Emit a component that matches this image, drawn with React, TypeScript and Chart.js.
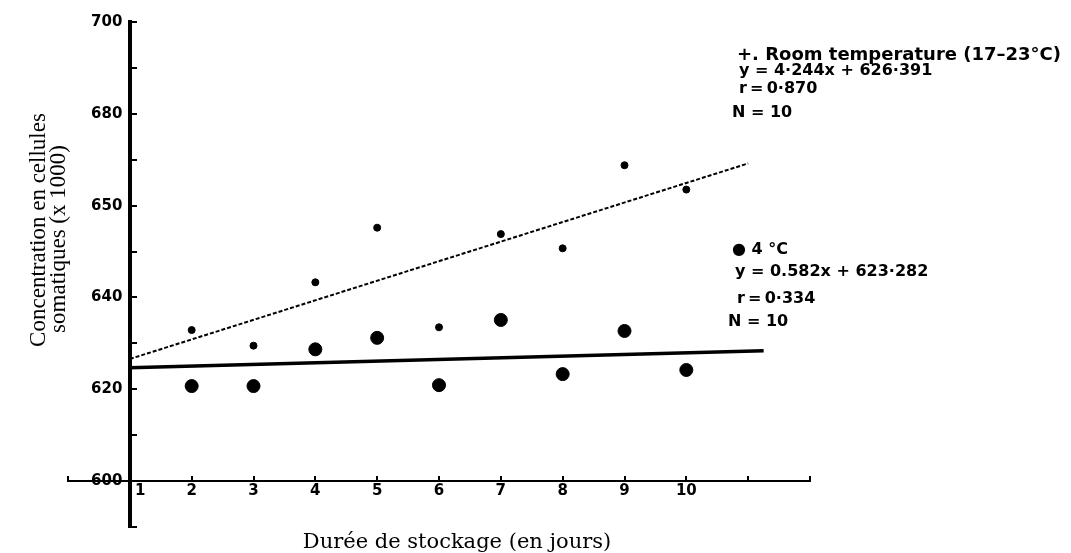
import React, { useEffect, useRef } from 'react';
import { Chart, registerables } from 'chart.js';

Chart.register(...registerables);

// Storage duration (days) and somatic cell concentrations (x 1000)
const days = [2, 3, 4, 5, 6, 7, 8, 9, 10];
const roomTemp = [632.9, 629.5, 643.3, 655.2, 633.5, 653.8, 650.7, 668.8, 663.5];
const cold4C = [620.7, 620.7, 628.7, 631.2, 620.9, 635.1, 623.3, 632.7, 624.2];

// Regression lines as drawn
const roomFitX = [1, 11];
const roomFitY = [626.6, 669.2];
const coldFitX = [1, 11.25];
const coldFitY = [624.7, 628.4];

// Axis tick labels as printed on the figure
const yTickValues = [600, 620, 640, 660, 680, 700];
const yTickLabels = ['600', '620', '640', '650', '680', '700'];
const xTickValues = [1, 2, 3, 4, 5, 6, 7, 8, 9, 10];
const xTickLabels = ['1', '2', '3', '4', '5', '6', '7', '8', '9', '10'];

const yTitleLines = ['Concentration en cellules', 'somatiques (x 1000)'];
const xTitle = 'Durée de stockage (en jours)';
const roomNotes = ['+. Room temperature (17–23°C)', 'y = 4·244x + 626·391', 'r\u2009=\u20090·870', 'N = 10'];
const coldNotes = ['● 4 °C', 'y = 0.582x + 623·282', 'r\u2009=\u20090·334', 'N = 10'];

const W = 1071;
const H = 553;

const textPlugin = {
  id: 'figureText',
  afterDraw(chart: any) {
    const ctx = chart.ctx;
    ctx.save();
    ctx.fillStyle = '#000';

    // y-axis title (rotated)
    ctx.font = '23px "Liberation Serif"';
    ctx.textAlign = 'center';
    ctx.textBaseline = 'alphabetic';
    const yPos = [
      [45, 230],
      [65, 239],
    ];
    yTitleLines.forEach((t, i) => {
      ctx.save();
      ctx.translate(yPos[i][0], yPos[i][1]);
      ctx.rotate(-Math.PI / 2);
      ctx.fillText(t, 0, 0);
      ctx.restore();
    });

    // x-axis title
    ctx.font = '21px "DejaVu Serif"';
    ctx.fillText(xTitle, 457, 548);

    // annotations
    ctx.textAlign = 'left';
    ctx.textBaseline = 'middle';
    const roomPos = [
      [737, 55],
      [739, 71],
      [739, 89],
      [732, 113],
    ];
    roomNotes.forEach((t, i) => {
      ctx.font = i === 0 ? 'bold 18px "DejaVu Sans"' : 'bold 16px "DejaVu Sans"';
      ctx.fillText(t, roomPos[i][0], roomPos[i][1]);
    });
    const coldPos = [
      [732, 250],
      [735, 272],
      [737, 299],
      [728, 322],
    ];
    ctx.font = 'bold 16px "DejaVu Sans"';
    coldNotes.forEach((t, i) => ctx.fillText(t, coldPos[i][0], coldPos[i][1]));
    ctx.restore();
  },
};

export default function App() {
  const canvasRef = useRef<HTMLCanvasElement | null>(null);

  useEffect(() => {
    document.body.style.margin = '0';
    const canvas = canvasRef.current;
    if (!canvas) return;

    const chart = new Chart(canvas, {
      type: 'scatter',
      data: {
        datasets: [
          {
            label: 'Room temperature (17–23°C)',
            data: days.map((d, i) => ({ x: d, y: roomTemp[i] })),
            backgroundColor: '#000',
            borderColor: '#000',
            pointRadius: 3.5,
            pointStyle: 'circle',
            showLine: false,
          },
          {
            label: '4 °C',
            data: days.map((d, i) => ({ x: d, y: cold4C[i] })),
            backgroundColor: '#000',
            borderColor: '#000',
            pointRadius: 6.5,
            pointStyle: 'circle',
            showLine: false,
          },
          {
            label: 'Room temperature fit',
            data: roomFitX.map((x, i) => ({ x, y: roomFitY[i] })),
            borderColor: '#000',
            borderWidth: 2,
            borderDash: [4, 2],
            pointRadius: 0,
            showLine: true,
          },
          {
            label: '4 °C fit',
            data: coldFitX.map((x, i) => ({ x, y: coldFitY[i] })),
            borderColor: '#000',
            borderWidth: 3.5,
            pointRadius: 0,
            showLine: true,
          },
        ],
      },
      options: {
        animation: false,
        responsive: false,
        devicePixelRatio: 1,
        layout: { padding: { left: 68, right: 261, top: 22, bottom: 26 } },
        plugins: {
          legend: { display: false },
          tooltip: { enabled: false },
        },
        scales: {
          x: {
            type: 'linear',
            position: { y: 600 } as any,
            min: 0,
            max: 12,
            afterFit: (s: any) => {
              s.height = 0;
            },
            grid: {
              drawOnChartArea: false,
              drawTicks: true,
              tickLength: -6,
              color: '#000',
              lineWidth: 2,
            },
            border: { display: true, color: '#000', width: 2 },
            ticks: {
              stepSize: 1,
              autoSkip: false,
              maxRotation: 0,
              padding: 7,
              color: '#000',
              font: { family: 'DejaVu Sans', size: 15, weight: 'bold' },
              callback: (v: any) => {
                const i = xTickValues.indexOf(Number(v));
                if (i < 0) return '';
                return i === 0 ? '\u2007\u2007' + xTickLabels[i] : xTickLabels[i];
              },
            },
          },
          y: {
            type: 'linear',
            position: { x: 1 } as any,
            min: 590,
            max: 700,
            afterFit: (s: any) => {
              s.width = 0;
            },
            grid: {
              drawOnChartArea: false,
              drawTicks: true,
              tickLength: -9,
              color: '#000',
              lineWidth: 2,
            },
            border: { display: true, color: '#000', width: 4 },
            ticks: {
              stepSize: 10,
              autoSkip: false,
              color: '#000',
              font: { family: 'DejaVu Sans', size: 15, weight: 'bold' },
              callback: (v: any) => {
                const i = yTickValues.indexOf(Number(v));
                return i < 0 ? '' : yTickLabels[i] + '\u2002';
              },
            },
          },
        },
      },
      plugins: [textPlugin],
    });

    return () => chart.destroy();
  }, []);

  return (
    <div style={{ width: W, height: H, background: '#fff' }}>
      <canvas ref={canvasRef} width={W} height={H} style={{ display: 'block' }} />
    </div>
  );
}
